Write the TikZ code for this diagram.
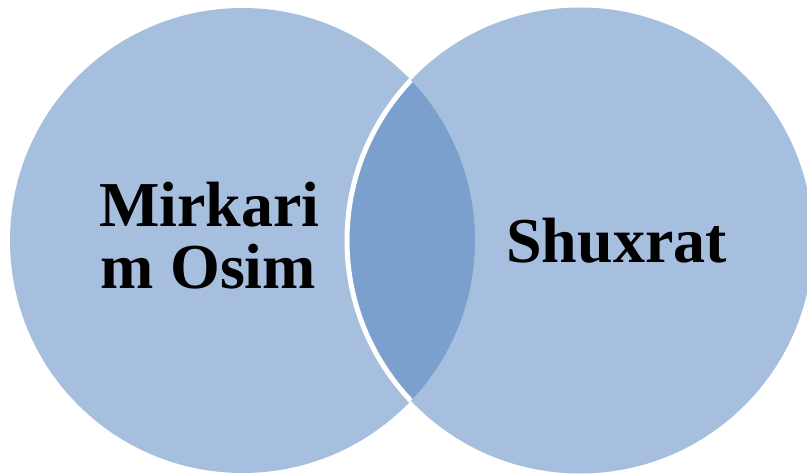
\documentclass[tikz,border=0pt]{standalone}
\usepackage{fontspec}
\setmainfont{Liberation Serif}
\definecolor{venn}{HTML}{A7BFDE}
\definecolor{lens}{HTML}{7BA0CD}
\begin{document}
\begin{tikzpicture}[x=1pt,y=-1pt,
  lbl/.style={anchor=base,inner sep=0pt,font=\fontsize{64}{62}\selectfont\bfseries}]
\useasboundingbox (0,0) rectangle (807,476);
\clip (0,0) rectangle (807,476);
\coordinate (cl) at (242.5,240.5);
\coordinate (cr) at (580,240.5);
\fill[venn] (cl) circle (232.5);
\fill[venn] (cr) circle (233);
\begin{scope}
  \clip (cl) circle (232.5);
  \fill[lens] (cr) circle (233);
  \draw[white,line width=5pt] (cr) circle (233);
\end{scope}
\node[lbl] (m1) at (209.5,227) {Mirkari};
\node[lbl] (m2) at (208.5,289) {m Osim};
\node[lbl] (s) at (616.5,262) {Shuxrat};
\end{tikzpicture}
\end{document}
